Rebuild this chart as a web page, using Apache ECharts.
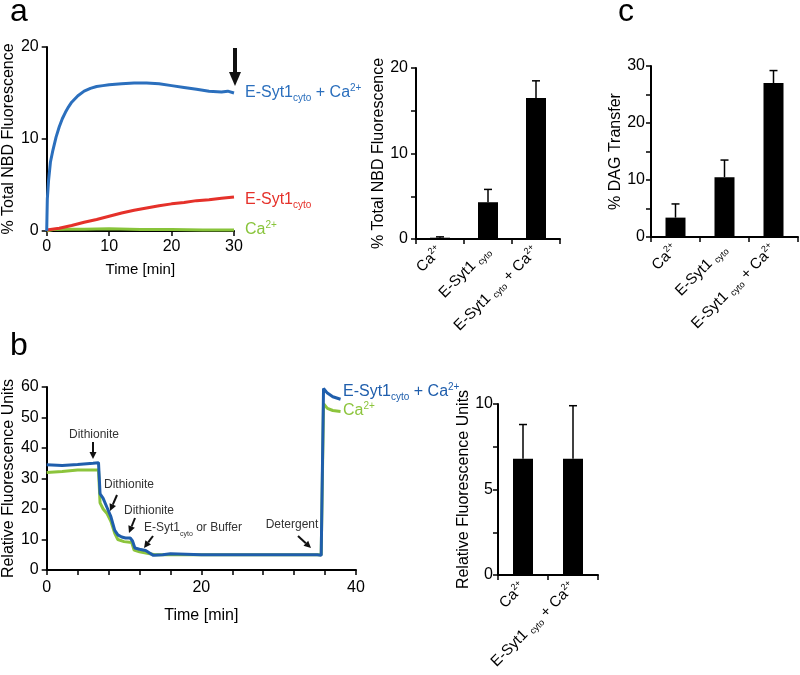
<!DOCTYPE html>
<html><head><meta charset="utf-8">
<script src="https://cdn.jsdelivr.net/npm/echarts@6/dist/echarts.min.js"></script>
<style>html,body{margin:0;padding:0;background:#fff}#c{width:800px;height:675px}</style>
</head><body><div id="c"></div>
<script>
// ---------- DATA ----------
// Panel a (kinetics)
const aBlueT = [0,0.1,0.3,0.6,1,1.5,2,2.5,3,3.5,4,5,6,7,8,9,10,12,14,16,18,20,22,24,26,28,29,30];
const aBlueV = [0,3.5,5.5,7.5,8.8,10.2,11.3,12.2,12.9,13.5,14,14.7,15.2,15.5,15.7,15.8,15.9,16,16.1,16.1,16,15.8,15.6,15.4,15.2,15.1,15.2,15.0];
const aRedT = [0,2,4,6,8,10,12,14,16,18,20,22,24,26,28,30];
const aRedV = [0.1,0.3,0.6,0.95,1.25,1.6,1.95,2.25,2.5,2.75,2.95,3.1,3.3,3.4,3.55,3.7];
const aGreenT = [0,1,3,6,10,15,20,25,30];
const aGreenV = [0,0.15,0.2,0.2,0.25,0.15,0.15,0.1,0.1];
// Panel a (bars)
const aCats = ['Ca{sup|2+}', 'E-Syt1 {sub|cyto}', 'E-Syt1 {sub|cyto} + Ca{sup|2+}'];
const aBarVals = [0.15, 4.3, 16.5];
const aBarErr = [0.1, 1.5, 2.0];
// Panel c (bars)
const cCats = ['Ca{sup|2+}', 'E-Syt1 {sub|cyto}', 'E-Syt1 {sub|cyto} + Ca{sup|2+}'];
const cBarVals = [3.4, 10.5, 27.0];
const cBarErr = [2.4, 3.0, 2.2];
// Panel b (traces)
const bBlueT = [0,2,4,6,6.7,6.9,7.3,7.8,8.3,8.8,9.2,9.7,10.2,10.8,11.1,11.4,12,12.8,13.3,13.8,15,16,20,25,30,35,35.5,35.8,36.3,37,38];
const bBlueV = [34.5,34.3,34.6,35,35.2,25,23.5,20.5,17.5,13,11.5,10.8,10.5,10.5,9.5,7.2,6.8,6.4,5.6,4.8,5,5.3,5,5,5,5,4.8,59.5,58,56.8,56];
const bGreenT = [0,2,4,6.7,6.9,7.3,7.8,8.3,8.8,9.2,10,11,11.3,12,13,14,20,25,30,35,35.5,35.8,36.3,37,38];
const bGreenV = [32,32.3,32.8,32.8,22,20,18.5,16,12,10,9.3,9,6.5,6,5.5,5,5,5,5,5,5,54.5,53,52.3,52];
// Panel b (bars)
const bCats = ['Ca{sup|2+}', 'E-Syt1 {sub|cyto} + Ca{sup|2+}'];
const bBarVals = [6.8, 6.8];
const bBarErr = [2.0, 3.1];
// Tick settings
const aLineYTicks = {min:0, max:20, interval:10};
const aLineXTicks = {min:0, max:30, interval:10};
const bLineYTicks = {min:0, max:60, interval:10};
const bLineXTicks = {min:0, max:40, interval:20};

// ---------- STYLE ----------
const FONT = 'Liberation Sans, Arial, sans-serif';
const BLUE_A = '#2b6fbd', RED_A = '#e5312a', GREEN_A = '#88c43a';
const BLUE_B = '#1f5eac', GREEN_B = '#8cc43c';
const rich = {
  sup: {fontSize: 9, lineHeight: 9, verticalAlign: 'top', fontFamily: FONT, color:'#000'},
  sub: {fontSize: 9, lineHeight: 9, verticalAlign: 'bottom', fontFamily: FONT, color:'#000'}
};
const axisLine = {show:true, lineStyle:{color:'#000', width:2}};
const axisTick = {show:true, length:5, lineStyle:{color:'#000', width:1.5}};
const axisLabel = {color:'#000', fontSize:16, fontFamily:FONT};
const nameStyle = {color:'#000', fontSize:16, fontFamily:FONT};

function pairs(t, v){ return t.map((x,i)=>[x, v[i]]); }
function errData(vals, errs){ return vals.map((v,i)=>[i, v, errs[i]]); }
function errRender(params, api){
  const i = api.value(0), v = api.value(1), e = api.value(2);
  const base = api.coord([i, v]);
  const top = api.coord([i, v + e]);
  return {type:'group', children:[
    {type:'line', shape:{x1:top[0], y1:base[1], x2:top[0], y2:top[1]}, style:{stroke:'#000', lineWidth:1.5}},
    {type:'line', shape:{x1:top[0]-4, y1:top[1], x2:top[0]+4, y2:top[1]}, style:{stroke:'#000', lineWidth:1.5}}
  ]};
}
function catX(gi, cats){
  return {type:'category', gridIndex:gi, data:cats, boundaryGap:true,
    axisLine, axisTick:{show:true, length:5, alignWithLabel:false, lineStyle:{color:'#000', width:1.5}},
    axisLabel:{color:'#000', fontSize:15, fontFamily:FONT, rotate:45, margin:10, lineHeight:18, rich}, splitLine:{show:false}};
}
function valY(gi, max, interval, name, gap, margin){
  return {type:'value', gridIndex:gi, min:0, max, interval, axisLine, axisTick,
    minorTick:{show:true, splitNumber:2, length:5, lineStyle:{color:'#000', width:1.5}},
    axisLabel:{...axisLabel, margin:margin||8}, splitLine:{show:false}, minorSplitLine:{show:false},
    name, nameLocation:'middle', nameGap:gap, nameRotate:90, nameTextStyle:nameStyle};
}

const chart = echarts.init(document.getElementById('c'), null, {renderer:'canvas'});
const option = {
  backgroundColor:'#fff',
  animation:false,
  grid:[
    {left:46, top:47, width:188, height:184},
    {left:416, top:68, width:144, height:171},
    {left:651, top:66, width:147, height:171},
    {left:42, top:387, width:314, height:183},
    {left:498, top:404, width:100, height:171}
  ],
  xAxis:[
    {type:'value', gridIndex:0, ...aLineXTicks, axisLine, axisTick, axisLabel:{...axisLabel, margin:8}, splitLine:{show:false},
      name:'Time [min]', nameLocation:'middle', nameGap:31, nameTextStyle:{...nameStyle, fontSize:15}},
    catX(1, aCats),
    catX(2, cCats),
    {type:'value', gridIndex:3, ...bLineXTicks, axisLine, axisTick,
      minorTick:{show:true, splitNumber:5, length:5, lineStyle:{color:'#000', width:1.5}},
      axisLabel:{...axisLabel, margin:10}, splitLine:{show:false}, minorSplitLine:{show:false},
      name:'Time [min]', nameLocation:'middle', nameGap:38, nameTextStyle:nameStyle},
    catX(4, bCats)
  ],
  yAxis:[
    {type:'value', gridIndex:0, ...aLineYTicks, axisLine, axisTick, axisLabel, splitLine:{show:false},
      name:'% Total NBD Fluorescence', nameLocation:'middle', nameGap:21, nameRotate:90, nameTextStyle:nameStyle},
    valY(1, 20, 10, '% Total NBD Fluorescence', 27),
    valY(2, 30, 10, '% DAG Transfer', 21, 6),
    {type:'value', gridIndex:3, ...bLineYTicks, axisLine, axisTick, axisLabel, splitLine:{show:false},
      name:'Relative Fluorescence Units', nameLocation:'middle', nameGap:26, nameRotate:90, nameTextStyle:nameStyle},
    valY(4, 10, 5, 'Relative Fluorescence Units', 21, 5)
  ],
  series:[
    {type:'line', xAxisIndex:0, yAxisIndex:0, data:pairs(aGreenT, aGreenV), showSymbol:false, lineStyle:{color:GREEN_A, width:3}, z:3},
    {type:'line', xAxisIndex:0, yAxisIndex:0, data:pairs(aRedT, aRedV), showSymbol:false, lineStyle:{color:RED_A, width:3}, z:3},
    {type:'line', xAxisIndex:0, yAxisIndex:0, data:pairs(aBlueT, aBlueV), showSymbol:false, lineStyle:{color:BLUE_A, width:3}, z:3},
    {type:'bar', xAxisIndex:1, yAxisIndex:1, data:aBarVals, barWidth:20, itemStyle:{color:'#000'}},
    {type:'custom', xAxisIndex:1, yAxisIndex:1, data:errData(aBarVals, aBarErr), renderItem:errRender, z:1},
    {type:'bar', xAxisIndex:2, yAxisIndex:2, data:cBarVals, barWidth:20, itemStyle:{color:'#000'}},
    {type:'custom', xAxisIndex:2, yAxisIndex:2, data:errData(cBarVals, cBarErr), renderItem:errRender, z:1},
    {type:'line', xAxisIndex:3, yAxisIndex:3, data:pairs(bGreenT, bGreenV), showSymbol:false, lineStyle:{color:GREEN_B, width:3}, z:3},
    {type:'line', xAxisIndex:3, yAxisIndex:3, data:pairs(bBlueT, bBlueV), showSymbol:false, lineStyle:{color:BLUE_B, width:3}, z:4},
    {type:'bar', xAxisIndex:4, yAxisIndex:4, data:bBarVals, barWidth:20, itemStyle:{color:'#000'}},
    {type:'custom', xAxisIndex:4, yAxisIndex:4, data:errData(bBarVals, bBarErr), renderItem:errRender, z:1}
  ]
};
chart.setOption(option);

// ---------- ANNOTATIONS ----------
function richText(x, y, text, color, size, align){
  const sub = {fontSize: Math.round(size*0.6), lineHeight: 9, verticalAlign:'bottom', fill:color, fontFamily:FONT};
  const sup = {fontSize: Math.round(size*0.6), lineHeight: 9, verticalAlign:'top', fill:color, fontFamily:FONT};
  return {type:'text', x, y, z:10, style:{text, fill:color, fontSize:size, fontFamily:FONT, lineHeight:20,
    align:align||'left', verticalAlign:'middle', rich:{sub, sup}}};
}
function arrow(x1, y1, x2, y2, w, head, hw){
  const dx = x2-x1, dy = y2-y1, L = Math.hypot(dx, dy), ux = dx/L, uy = dy/L;
  const bx = x2 - ux*head, by = y2 - uy*head;
  return [
    {type:'line', z:10, shape:{x1, y1, x2:bx, y2:by}, style:{stroke:'#111', lineWidth:w}},
    {type:'polygon', z:10, shape:{points:[[x2,y2],[bx - uy*hw, by + ux*hw],[bx + uy*hw, by - ux*hw]]}, style:{fill:'#111'}}
  ];
}
const graphics = [
  {type:'text', x:10, y:-4, style:{text:'a', fontSize:32, fontFamily:FONT, fill:'#000'}},
  {type:'text', x:618, y:-4, style:{text:'c', fontSize:32, fontFamily:FONT, fill:'#000'}},
  {type:'text', x:10, y:330, style:{text:'b', fontSize:32, fontFamily:FONT, fill:'#000'}},
  richText(245, 93, 'E-Syt1{sub|cyto} + Ca{sup|2+}', BLUE_A, 16),
  richText(245, 200, 'E-Syt1{sub|cyto}', RED_A, 16),
  richText(245, 230, 'Ca{sup|2+}', GREEN_A, 16),
  ...arrow(235, 48, 235, 86, 4, 14, 6),
  richText(343, 392, 'E-Syt1{sub|cyto} + Ca{sup|2+}', BLUE_B, 16),
  richText(343, 411, 'Ca{sup|2+}', GREEN_B, 16),
  richText(94, 435, 'Dithionite', '#333', 12, 'center'),
  ...arrow(93, 442, 93, 459, 2, 7, 3.5),
  richText(129, 485, 'Dithionite', '#333', 12, 'center'),
  ...arrow(117, 495, 110, 511, 2, 7, 3.5),
  richText(149, 511, 'Dithionite', '#333', 12, 'center'),
  ...arrow(135, 518, 129, 533, 2, 7, 3.5),
  richText(193, 528, 'E-Syt1{sub|cyto} or Buffer', '#333', 12, 'center'),
  ...arrow(153, 536, 144, 548, 2, 7, 3.5),
  richText(292, 525, 'Detergent', '#333', 12, 'center'),
  ...arrow(298, 536, 311, 548, 2, 7, 3.5)
];
chart.setOption({graphic: graphics});
</script></body></html>
